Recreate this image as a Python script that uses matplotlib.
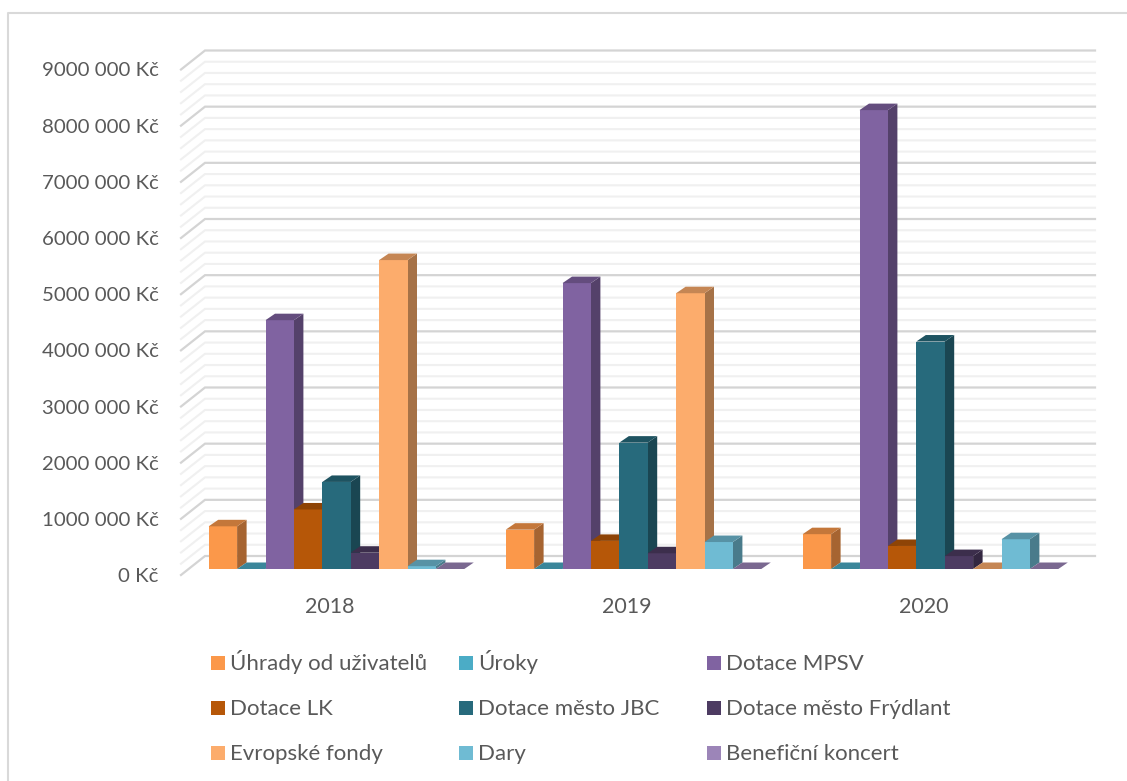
import matplotlib
matplotlib.use("Agg")
import matplotlib.pyplot as plt
from matplotlib.colors import to_rgb
from matplotlib.lines import Line2D
from matplotlib.patches import Polygon, Rectangle

plt.rcParams['font.family'] = ['Lato', 'DejaVu Sans']

years = ["2018", "2019", "2020"]
series = ["Úhrady od uživatelů", "Úroky", "Dotace MPSV",
          "Dotace LK", "Dotace město JBC", "Dotace město Frýdlant",
          "Evropské fondy", "Dary", "Benefiční koncert"]
colors = ["#FB984A", "#4BACC6", "#8063A1",
          "#B65708", "#276A7C", "#4D3B62",
          "#FCAC6C", "#6FBBD3", "#9C85B8"]

uhrady = [760000, 700000, 620000]
uroky = [0, 0, 0]
mpsv = [4430000, 5090000, 8170000]
lk = [1060000, 500000, 410000]
jbc = [1550000, 2250000, 4050000]
frydlant = [290000, 280000, 230000]
fondy = [5500000, 4910000, 0]
dary = [50000, 480000, 530000]
koncert = [0, 0, 0]
values = [uhrady, uroky, mpsv, lk, jbc, frydlant, fondy, dary, koncert]

W, H = 1127, 781
text_color = "#595959"


def px_x(x):
    return x / W


def px_y(y):
    return 1 - y / H


def shade(color, k):
    return tuple(c * k for c in to_rgb(color))


def money(t):
    if t == 0:
        return "0 Kč"
    return "%d000 000 Kč" % (t // 1000000)


fig = plt.figure(figsize=(W / 100, H / 100), dpi=100, facecolor="white")

# front edge of the floor is the axes box
left, right, y0, y9 = 181, 1072, 575, 69.5
ax = fig.add_axes([px_x(left), px_y(y0), (right - left) / W, (y0 - y9) / H])
ax.set_xlim(-0.5, 2.5)
ax.set_ylim(0, 9000000)
ax.patch.set_visible(False)
for s in ax.spines.values():
    s.set_visible(False)

step_x = 3 / (right - left)          # x units per pixel
step_y = 9000000 / (y0 - y9)         # y units per pixel

# wall and floor grid
wall_dx, wall_dy = 24 * step_x, 19 * step_y
wall_end = 2.5 + 23 * step_x
for i in range(46):
    v = i * 200000
    major = i % 5 == 0
    ax.plot([-0.5, -0.5 + wall_dx, wall_end], [v, v + wall_dy, v + wall_dy],
            color="#D4D4D4" if major else "#F0F0F0", lw=1.6 if major else 1.5,
            clip_on=False, zorder=2 if major else 1, solid_joinstyle="miter")

# bars, left to right so the next front face covers the previous side
bar_w = 28.4 * step_x
front_dx, front_dy = 7 * step_x, 6 * step_y
depth_x, depth_y = 9.5 * step_x, 6.5 * step_y
n = len(series)
for g in range(len(years)):
    for i in range(n):
        v = values[i][g]
        c = colors[i]
        xa = g + (i - n / 2) * bar_w + front_dx
        xb = xa + bar_w
        ya = front_dy
        yb = v + front_dy
        if v > 0:
            ax.add_patch(Polygon([(xb, ya), (xb + depth_x, ya + depth_y),
                                  (xb + depth_x, yb + depth_y), (xb, yb)],
                                 fc=shade(c, 0.66), ec="none", zorder=3, clip_on=False))
            ax.add_patch(Rectangle((xa, ya), bar_w, v, fc=c, ec="none", zorder=3, clip_on=False))
        ax.add_patch(Polygon([(xa, yb), (xb, yb), (xb + depth_x, yb + depth_y),
                              (xa + depth_x, yb + depth_y)],
                             fc=shade(c, 0.78), ec="none", zorder=3, clip_on=False))

yticks = list(range(0, 9000001, 1000000))
ax.set_yticks(yticks)
ax.set_yticklabels([money(t) for t in yticks])
ax.set_xticks(range(len(years)))
ax.set_xticklabels(years)
ax.tick_params(axis="both", length=0, labelcolor=text_color)
ax.tick_params(axis="y", pad=16, labelsize=14.7)
ax.tick_params(axis="x", pad=16, labelsize=15.4)

# legend, three columns filled row by row
col_x = [211, 459, 707]
row_y = [663, 708, 753]
for i, name in enumerate(series):
    x = col_x[i % 3]
    y = row_y[i // 3]
    fig.add_artist(Rectangle((px_x(x), px_y(y + 7)), 14 / W, 14 / H, fc=colors[i], ec="none",
                             transform=fig.transFigure))
    fig.text(px_x(x + 19.5), px_y(y + 7), name, color=text_color, fontsize=16, va="baseline")

# chart frame
fig.add_artist(Line2D([px_x(8), px_x(8), 1], [0, px_y(13), px_y(13)], color="#D9D9D9", lw=1.5,
                      transform=fig.transFigure))

fig.savefig("out.png", dpi=100, facecolor="white")
